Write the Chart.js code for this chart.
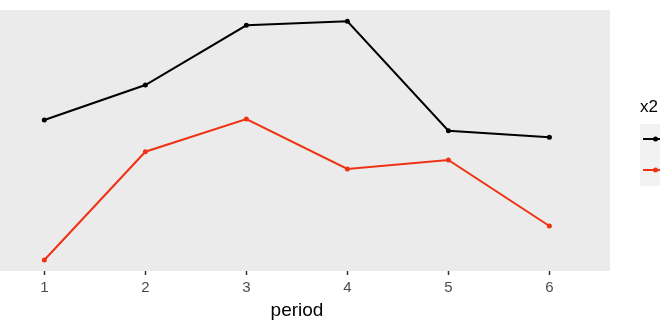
<!DOCTYPE html>
<html>
<head>
<meta charset="utf-8">
<script src="https://cdn.jsdelivr.net/npm/chart.js@4.4.1/dist/chart.umd.min.js"></script>
<style>
  html, body { margin: 0; padding: 0; background: #fff; }
  #wrap { width: 660px; height: 330px; }
</style>
</head>
<body>
<div id="wrap"><canvas id="myChart" width="660" height="330"></canvas></div>
<script>
var periods = [1, 2, 3, 4, 5, 6];
var seriesA = [151, 186, 245.7, 249.7, 140.3, 133.7];   // black
var seriesB = [11, 119.3, 152, 102, 111, 45];          // red
var seriesNames = ['a', 'b'];
var legendTitle = 'x2';
var xTitle = 'period';

function toPoints(vals){
    var out = [];
    for (var i = 0; i < periods.length; i++) {
        out.push({x: periods[i], y: vals[i]});
    }
    return out;
}

// panel background, legend and axis title in ggplot style
var ggExtras = {
    id: 'ggExtras',
    beforeDraw: function(chart){
        var ctx = chart.ctx, a = chart.chartArea;
        ctx.save();
        ctx.fillStyle = '#ebebeb';
        ctx.fillRect(a.left, a.top, a.right - a.left, a.bottom - a.top);
        ctx.restore();
    },
    afterDraw: function(chart){
        var ctx = chart.ctx;
        ctx.save();
        ctx.fillStyle = '#000';
        ctx.font = '19px "Liberation Sans", Arial, sans-serif';
        ctx.textAlign = 'center';
        ctx.textBaseline = 'alphabetic';
        ctx.fillText(xTitle, 297, 316);

        ctx.textAlign = 'left';
        ctx.font = '17px "Liberation Sans", Arial, sans-serif';
        ctx.fillText(legendTitle, 640, 112);

        ctx.fillStyle = '#f2f2f2';
        ctx.fillRect(640, 124, 30, 62);
        var keyY = [139, 170];
        chart.data.datasets.forEach(function(ds, i){
            ctx.strokeStyle = ds.borderColor;
            ctx.lineWidth = 2;
            ctx.beginPath();
            ctx.moveTo(643, keyY[i]);
            ctx.lineTo(668, keyY[i]);
            ctx.stroke();
            ctx.fillStyle = ds.borderColor;
            ctx.beginPath();
            ctx.arc(655.5, keyY[i], 2.5, 0, Math.PI * 2);
            ctx.fill();
        });
        ctx.restore();
    }
};

var ctx = document.getElementById('myChart').getContext('2d');
var myChart = new Chart(ctx, {
    type: 'line',
    data: {
        datasets: [{
            label: seriesNames[0],
            data: toPoints(seriesA),
            borderColor: '#000000',
            backgroundColor: '#000000',
            borderWidth: 2,
            pointRadius: 2.5,
            pointBorderWidth: 0,
            tension: 0,
            fill: false
        }, {
            label: seriesNames[1],
            data: toPoints(seriesB),
            borderColor: '#f03214',
            backgroundColor: '#f03214',
            borderWidth: 2,
            pointRadius: 2.5,
            pointBorderWidth: 0,
            tension: 0,
            fill: false
        }]
    },
    options: {
        responsive: false,
        animation: false,
        devicePixelRatio: 1,
        layout: {
            autoPadding: false,
            padding: { top: 10, right: 50, left: 0, bottom: 0 }
        },
        plugins: {
            legend: { display: false },
            tooltip: { enabled: false }
        },
        scales: {
            x: {
                type: 'linear',
                min: 0.561,
                max: 6.6,
                afterBuildTicks: function(scale){
                    scale.ticks = periods.map(function(p){ return {value: p}; });
                },
                afterFit: function(scale){
                    scale.height = 59;
                    scale.paddingLeft = 0;
                    scale.paddingRight = 0;
                },
                border: { display: false },
                grid: {
                    drawOnChartArea: false,
                    drawTicks: true,
                    tickLength: 4,
                    tickWidth: 1.5,
                    color: '#333333'
                },
                ticks: {
                    color: '#4d4d4d',
                    padding: 4,
                    maxRotation: 0,
                    font: { family: '"Liberation Sans", Arial, sans-serif', size: 15 }
                }
            },
            y: {
                display: false,
                min: 0,
                max: 261
            }
        }
    },
    plugins: [ggExtras]
});
</script>
</body>
</html>
